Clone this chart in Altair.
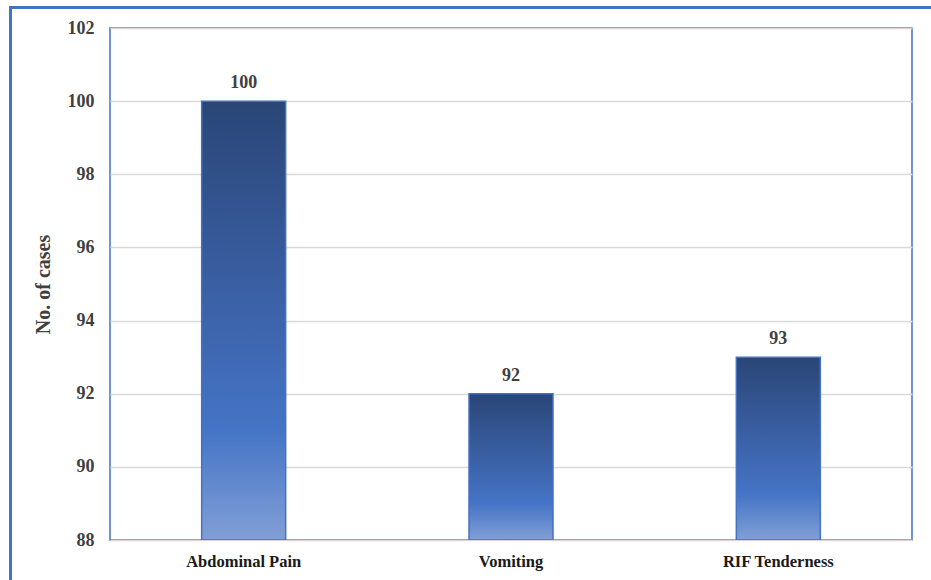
import altair as alt
import pandas as pd

categories = ["Abdominal Pain", "Vomiting", "RIF Tenderness"]
cases = [100, 92, 93]
y_ticks = [88, 90, 92, 94, 96, 98, 100, 102]

df = pd.DataFrame({"symptom": categories, "cases": cases})

FONT = "Liberation Serif"
TXT = "#404040"
BLUE = "#4472c4"

grad = alt.Gradient(
    gradient="linear",
    stops=[
        alt.GradientStop(color="#2a4677", offset=0),
        alt.GradientStop(color="#3a5fa3", offset=0.42),
        alt.GradientStop(color="#4574c6", offset=0.75),
        alt.GradientStop(color="#819fd6", offset=1),
    ],
    x1=0, x2=0, y1=0, y2=1,
)

x_enc = alt.X(
    "symptom:N",
    sort=categories,
    scale=alt.Scale(paddingInner=0, paddingOuter=0),
    axis=alt.Axis(
        title=None, labelAngle=0, labelFont=FONT, labelFontSize=16.5,
        labelFontWeight="bold", labelColor="#1a1a1a", labelPadding=13,
        ticks=False, domain=False, grid=False,
    ),
)
y_enc = alt.Y(
    "cases:Q",
    scale=alt.Scale(domain=[88, 102], nice=False, zero=False),
    axis=alt.Axis(
        title="No. of cases", values=y_ticks, titleFont=FONT, titleFontSize=20,
        titleFontWeight="bold", titleColor=TXT, titlePadding=14,
        labelFont=FONT, labelFontSize=18, labelFontWeight="bold",
        labelColor=TXT, labelPadding=16, ticks=False, domain=False,
        grid=True, gridColor="#d9d9d9", gridWidth=1.5,
    ),
)

bars = alt.Chart(df).mark_bar(
    size=84, color=grad, stroke=BLUE, strokeWidth=1.5, clip=True
).encode(x=x_enc, y=y_enc, y2=alt.datum(88))

labels = alt.Chart(df).mark_text(
    font=FONT, fontSize=18, fontWeight="bold", color=TXT,
    baseline="bottom", dy=-9,
).encode(x=alt.X("symptom:N", sort=categories), y="cases:Q", text="cases:Q")

frame = alt.Chart(df).mark_rect(
    fill=None, stroke=BLUE, strokeWidth=3, clip=False
).encode(
    x=alt.value(-99.5), x2=alt.value(900), y=alt.value(-20.5), y2=alt.value(600)
)

chart = alt.layer(frame, bars, labels).properties(
    width=802, height=512,
    autosize=alt.AutoSizeParams(type="none"),
    padding={"left": 110, "top": 28, "right": 19, "bottom": 40},
    background="#ffffff",
).configure_view(stroke=BLUE, strokeWidth=1.5)

chart.save("out.html", embed_options={"renderer": "svg", "actions": False})
